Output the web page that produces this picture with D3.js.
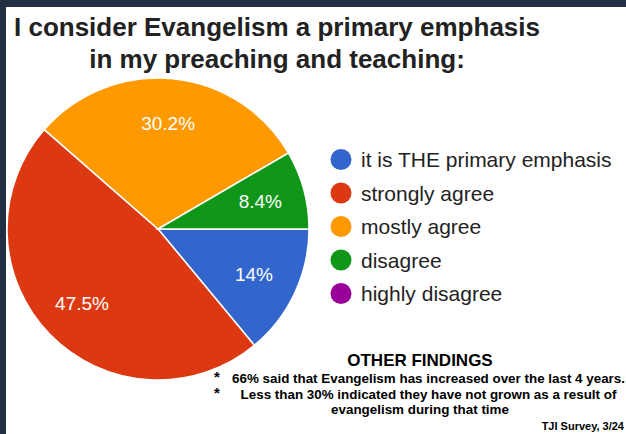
<!DOCTYPE html>
<html>
<head>
<meta charset="utf-8">
<script src="https://cdn.jsdelivr.net/npm/d3@7"></script>
<style>
  body { margin: 0; background: #233044; }
  svg { display: block; }
</style>
</head>
<body>
<div class="chart-container"></div>
<script>
const categories = ['it is THE primary emphasis', 'strongly agree', 'mostly agree', 'disagree', 'highly disagree'];
const shares = [14, 47.5, 30.2, 8.4, 0];
const colors = ['#3366cc', '#dc3912', '#ff9900', '#109618', '#990099'];
const titleLines = ['I consider Evangelism a primary emphasis', 'in my preaching and teaching:'];
const findings = [
    '66% said that Evangelism has increased over the last 4 years.',
    'Less than 30% indicated they have not grown as a result of',
    'evangelism during that time'
];

const width = 626, height = 434;
const cx = 158, cy = 229, radius = 151;

const svg = d3.select('.chart-container').append('svg')
    .attr('width', width)
    .attr('height', height);

// dark frame + white panel
svg.append('rect').attr('width', width).attr('height', height).attr('fill', '#233044');
svg.append('rect').attr('x', 6).attr('y', 7).attr('width', width - 6).attr('height', height - 7).attr('fill', '#fff');

// title
svg.append('g').selectAll('text')
    .data(titleLines)
    .enter()
    .append('text')
    .attr('x', 277)
    .attr('y', (d, i) => 36 + i * 32)
    .attr('text-anchor', 'middle')
    .style('font', 'bold 26px "Liberation Sans", Arial, sans-serif')
    .attr('fill', '#222')
    .text(d => d);

// pie, starting at 3 o'clock going clockwise
const slices = categories.map((c, i) => ({name: c, value: shares[i], color: colors[i]}));
const pie = d3.pie().value(d => d.value).sort(null)
    .startAngle(Math.PI / 2).endAngle(Math.PI / 2 + 2 * Math.PI);
const arc = d3.arc().innerRadius(0).outerRadius(radius);
const labelArc = d3.arc().innerRadius(106).outerRadius(106);

const chart = svg.append('g').attr('id', 'chart')
    .attr('transform', 'translate(' + cx + ',' + cy + ')');

const arcs = pie(slices).filter(d => d.data.value > 0);

chart.selectAll('path')
    .data(arcs)
    .enter()
    .append('path')
    .attr('d', arc)
    .attr('fill', d => d.data.color)
    .attr('stroke', '#fff')
    .attr('stroke-width', 1.5);

chart.selectAll('text')
    .data(arcs)
    .enter()
    .append('text')
    .attr('transform', d => 'translate(' + labelArc.centroid(d) + ')')
    .attr('text-anchor', 'middle')
    .attr('dy', '0.36em')
    .style('font', '19px "Liberation Sans", Arial, sans-serif')
    .attr('fill', '#fff')
    .text(d => d.data.value + '%');

// legend
const legend = svg.append('g').attr('id', 'legend')
    .selectAll('g')
    .data(slices)
    .enter()
    .append('g')
    .attr('transform', (d, i) => 'translate(341,' + (159.5 + i * 33.5) + ')');

legend.append('circle').attr('r', 10.5).attr('fill', d => d.color);
legend.append('text')
    .attr('x', 20)
    .attr('dy', '0.36em')
    .style('font', '21px "Liberation Sans", Arial, sans-serif')
    .attr('fill', '#222')
    .text(d => d.name);

// other findings
const notes = svg.append('g').attr('id', 'notes')
    .style('font-family', '"Liberation Sans", Arial, sans-serif')
    .style('font-weight', 'bold')
    .attr('fill', '#000');

notes.append('text').attr('x', 420).attr('y', 366)
    .attr('text-anchor', 'middle').style('font-size', '17px')
    .text('OTHER FINDINGS');

notes.selectAll('text.line')
    .data(findings)
    .enter()
    .append('text')
    .attr('class', 'line')
    .attr('x', (d, i) => i < 2 ? 428.5 : 420)
    .attr('y', (d, i) => [383, 399, 414][i])
    .attr('text-anchor', 'middle')
    .style('font-size', '13.4px')
    .text(d => d);

notes.selectAll('text.star')
    .data([0, 1])
    .enter()
    .append('text')
    .attr('class', 'star')
    .attr('x', 217)
    .attr('y', d => 382 + d * 16)
    .attr('text-anchor', 'middle')
    .style('font-size', '15px')
    .text('*');

notes.append('text').attr('x', 624).attr('y', 430)
    .attr('text-anchor', 'end').style('font-size', '11px')
    .text('TJI Survey, 3/24');
</script>
</body>
</html>
